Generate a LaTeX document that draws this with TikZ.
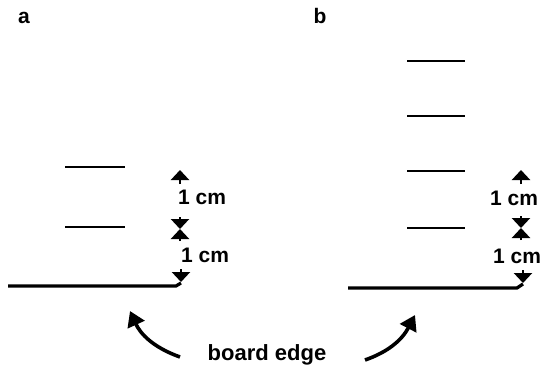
\documentclass[tikz,border=0pt]{standalone}
\usepackage{fontspec}
\setmainfont{Liberation Sans}
\usetikzlibrary{arrows.meta,calc}
\begin{document}
\begin{tikzpicture}[x=1pt,y=-1pt,
  tick/.style={line width=2.8pt},
  edge/.style={line width=3.2pt},
  dimarr/.style={line width=2.4pt,-{Triangle[width=18pt,length=10pt,fill=black]}},
  lab/.style={font=\bfseries\fontsize{21}{21}\selectfont, inner sep=0pt},
  panel/.style={font=\bfseries\fontsize{21}{21}\selectfont, inner sep=0pt},
  curv/.style={line width=3.6pt,-{Triangle[width=18pt,length=15pt,fill=black]}}]
\useasboundingbox (0,0) rectangle (547,370);
% panel labels
\node[panel] (pa) at (24,18) {a};
\node[panel] (pb) at (320,16) {b};
% panel a lines
\draw[tick] (65,167) -- (125,167);
\draw[tick] (65,227) -- (125,227);
\draw[edge] (8,286) -- (176,286) -- (181,283);
% panel a dimensions
\coordinate (a1) at (180,170);
\coordinate (a2) at (180,229);
\coordinate (a3) at (181,282);
\draw[dimarr] ($(a1)+(0,14)$) -- (a1);
\draw[dimarr] ($(a2)+(0,-12)$) -- (a2);
\draw[dimarr] ($(a2)+(0,12)$) -- (a2);
\draw[dimarr] ($(a3)+(0,-13)$) -- (a3);
\node[lab, anchor=west] (la1) at (178,197) {1 cm};
\node[lab, anchor=west] (la2) at (181,255) {1 cm};
% panel b lines
\draw[tick] (407,61) -- (465,61);
\draw[tick] (407,116) -- (465,116);
\draw[tick] (407,171) -- (465,171);
\draw[tick] (407,228) -- (465,228);
\draw[edge] (348,288) -- (517,288) -- (523,284);
% panel b dimensions
\coordinate (b1) at (521,170);
\coordinate (b2) at (521,228);
\coordinate (b3) at (523,283);
\draw[dimarr] ($(b1)+(0,14)$) -- (b1);
\draw[dimarr] ($(b2)+(0,-12)$) -- (b2);
\draw[dimarr] ($(b2)+(0,12)$) -- (b2);
\draw[dimarr] ($(b3)+(0,-13)$) -- (b3);
\node[lab, anchor=west] (lb1) at (490,198) {1 cm};
\node[lab, anchor=west] (lb2) at (493,256) {1 cm};
% board edge
\node[lab, font=\bfseries\fontsize{22}{22}\selectfont] (be) at (267,355) {board edge};
\coordinate (ta) at (130,311);
\coordinate (tb) at (415,315);
\draw[curv] (180,357) .. controls (152,347) and (140,333) .. (ta);
\draw[curv] (365,360) .. controls (388,352) and (402,340) .. (tb);
\end{tikzpicture}
\end{document}
